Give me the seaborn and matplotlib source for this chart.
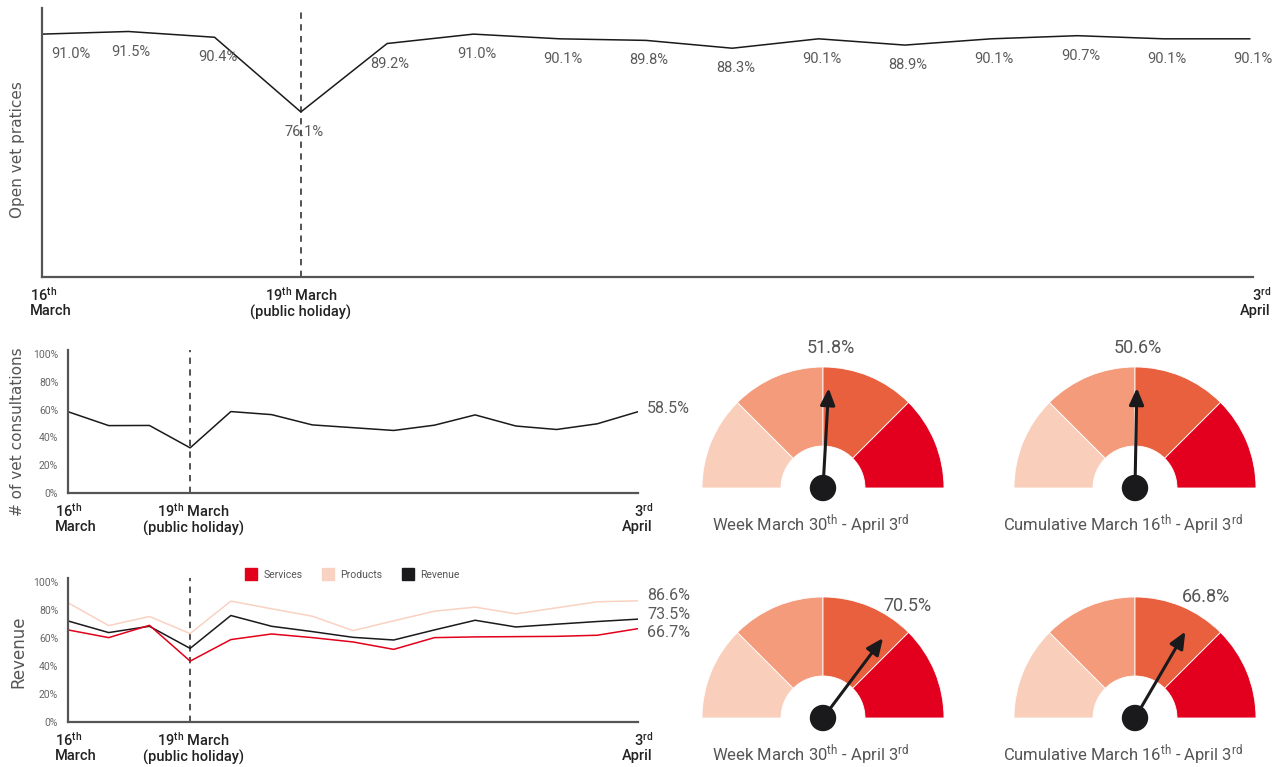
import numpy as np
import pandas as pd
import matplotlib
matplotlib.use('Agg')
import matplotlib.pyplot as plt
import seaborn as sns
from matplotlib.patches import Wedge, Circle
from matplotlib.lines import Line2D

# Data
days = np.arange(15)  # working days 16 March - 3 April
open_vals = [91.0, 91.5, 90.4, 76.1, 89.2, 91.0, 90.1, 89.8, 88.3, 90.1, 88.9, 90.1, 90.7, 90.1, 90.1]
consult_vals = [58.5, 48.5, 48.6, 32.5, 58.6, 56.4, 49.0, 47.0, 45.0, 48.8, 56.2, 48.2, 45.7, 49.8, 58.5]
services = [65.8, 60.3, 69.1, 43.5, 58.9, 62.9, 60.3, 57.2, 51.9, 60.3, 60.8, 61.0, 61.2, 62.0, 66.7]
products = [85.2, 68.9, 75.4, 63.2, 86.4, 80.9, 75.6, 65.3, 72.3, 79.2, 82.1, 77.3, 81.6, 85.9, 86.6]
revenue = [72.2, 63.9, 68.4, 52.6, 76.1, 68.4, 64.6, 60.5, 58.6, 65.8, 72.7, 67.9, 69.9, 71.8, 73.5]
series_names = ['Services', 'Products', 'Revenue']
series_colors = ['#E2001A', '#F9D2C2', '#1A1A1D']

date_pos = [0, 3, 14]
date_text = [r'$\mathregular{16^{th}}$' + '\nMarch',
             r'$\mathregular{19^{th}}$ March' + '\n(public holiday)',
             r'$\mathregular{3^{rd}}$' + '\nApril']

gauge_values = [51.8, 50.6, 70.5, 66.8]
gauge_titles = [r'Week March $\mathregular{30^{th}}$ - April $\mathregular{3^{rd}}$',
                r'Cumulative March $\mathregular{16^{th}}$ - April $\mathregular{3^{rd}}$'] * 2
band_colors = ['#F9CEBB', '#F39B7B', '#E9603F', '#E2001E']

sns.set_style('white')
plt.rcParams['font.family'] = ['Roboto', 'DejaVu Sans']

W, H = 1282, 767
fig = plt.figure(figsize=(W / 100, H / 100), dpi=100)


def px_axes(x0, y0, x1, y1):
    return fig.add_axes([x0 / W, 1 - y1 / H, (x1 - x0) / W, (y1 - y0) / H])


def style_axes(ax):
    sns.despine(ax=ax)
    for s in ['left', 'bottom']:
        ax.spines[s].set_color('#555555')
        ax.spines[s].set_linewidth(1.6)
    ax.set_xlabel('')
    ax.set_ylabel('')
    ax.set_xticks([])
    ax.axvline(3, color='#444444', lw=1.3, ls=(0, (3.5, 3)), zorder=0)


def date_labels(ax, offsets):
    for i, txt, ha, dx in zip(date_pos, date_text, ['left', 'center', 'right'], offsets):
        ax.annotate(txt, xy=(i, 0), xycoords=('data', 'axes fraction'),
                    xytext=(dx, -9), textcoords='offset pixels',
                    ha=ha, va='top', multialignment=ha, fontsize=10.5,
                    fontweight='medium', color='#222222', linespacing=1.05)


def pct_yaxis(ax):
    ax.set_ylim(0, 102.9)
    ax.set_yticks(range(0, 101, 20))
    ax.set_yticklabels([f'{v}%' for v in range(0, 101, 20)])
    ax.tick_params(axis='y', length=0, pad=7, labelsize=7.5, labelcolor='#666666')


# --- top: open vet practices
ax1 = px_axes(42, 8, 1253, 277)
sns.lineplot(x=days, y=open_vals, ax=ax1, color='#1A1A1A', lw=1.1)
style_axes(ax1)
ax1.set_xlim(0, 14.035)
ax1.set_ylim(44.5, 96)
ax1.set_yticks([])
for i, v in zip(days, open_vals):
    ha, dx = ('left', 9) if i == 0 else ('center', 3)
    ax1.annotate(f'{v:.1f}%', xy=(i, v), xytext=(dx, -20), textcoords='offset pixels',
                 ha=ha, va='center', fontsize=10.5, color='#5A5A5A')
date_labels(ax1, [-12, 0, 21])
fig.text(18 / W, 1 - 150 / H, 'Open vet pratices', rotation=90, ha='center', va='center',
         fontsize=11, color='#555555', family='DejaVu Sans')

# --- middle: consultations
ax2 = px_axes(68, 350, 638, 493)
sns.lineplot(x=days, y=consult_vals, ax=ax2, color='#1A1A1A', lw=1.1)
style_axes(ax2)
ax2.set_xlim(0, 14)
pct_yaxis(ax2)
ax2.annotate(f'{consult_vals[-1]:.1f}%', xy=(14, consult_vals[-1]), xytext=(9, 3),
             textcoords='offset pixels', ha='left', va='center', fontsize=11.5, color='#5A5A5A')
date_labels(ax2, [-13, 3, 15])
fig.text(18 / W, 1 - 432 / H, '# of vet consultations', rotation=90, ha='center', va='center',
         fontsize=11, color='#555555', family='DejaVu Sans')

# --- bottom: revenue
ax3 = px_axes(68, 578, 638, 722)
rev_df = pd.DataFrame({
    'day': np.tile(days, 3),
    'value': np.concatenate([services, products, revenue]),
    'series': np.repeat(series_names, len(days)),
})
sns.lineplot(data=rev_df, x='day', y='value', hue='series', hue_order=['Products', 'Revenue', 'Services'],
             palette=dict(zip(series_names, series_colors)), ax=ax3, lw=1.1, legend=False)
style_axes(ax3)
ax3.set_xlim(0, 14)
pct_yaxis(ax3)
for vals, dy in zip([products, revenue, services], [5, 5, -4]):
    ax3.annotate(f'{vals[-1]:.1f}%', xy=(14, vals[-1]), xytext=(9, dy),
                 textcoords='offset pixels', ha='left', va='center', fontsize=11.5, color='#5A5A5A')
handles = [Line2D([], [], marker='s', ls='', markersize=8, markerfacecolor=c, markeredgecolor=c)
           for c in series_colors]
ax3.legend(handles, series_names, loc='center', bbox_to_anchor=(0.495, 1.02), ncol=3, frameon=False,
           fontsize=7.5, handletextpad=0.2, columnspacing=1.4, labelcolor='#555555')
date_labels(ax3, [-13, 3, 15])
fig.text(18 / W, 1 - 652 / H, 'Revenue', rotation=90, ha='center', va='center',
         fontsize=12, color='#555555', family='DejaVu Sans')

# --- gauges
centers = [(823, 488), (1135, 488), (823, 718), (1135, 718)]
for (cx, cy), val, title in zip(centers, gauge_values, gauge_titles):
    ax = px_axes(cx - 160, cy - 170, cx + 160, cy + 50)
    ax.set_xlim(-160, 160)
    ax.set_ylim(-50, 170)
    ax.axis('off')
    for k, c in enumerate(band_colors):
        ax.add_patch(Wedge((0, 0), 121, 180 - 45 * (k + 1), 180 - 45 * k, width=79,
                           facecolor=c, edgecolor='white', lw=0.6))
    ang = np.deg2rad(180 - val / 100 * 180)
    ax.annotate('', xy=(100 * np.cos(ang), 100 * np.sin(ang)), xytext=(0, 0),
                arrowprops=dict(arrowstyle='-|>,head_length=0.5,head_width=0.22', color='#1A1A1D',
                                lw=2.2, shrinkA=0, shrinkB=0, mutation_scale=20))
    ax.add_patch(Circle((0, 0), 12.5, color='#1A1A1D', zorder=5))
    ax.text(140 * np.cos(ang), 140 * np.sin(ang), f'{val:.1f}%', ha='center', va='center',
            fontsize=13, color='#555555')
    ax.text(-12, -37, title, ha='center', va='center', fontsize=12, color='#555555')

fig.savefig('out.png', dpi=100)
